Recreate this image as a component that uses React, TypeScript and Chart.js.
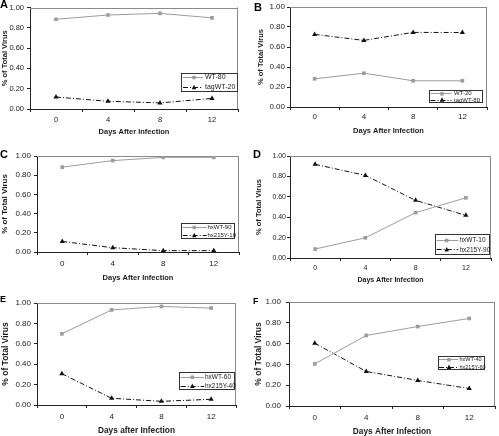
import React, { useEffect, useRef } from "react";
import { Chart, registerables } from "chart.js";

Chart.register(...registerables);

const FONT = '"Liberation Sans", Arial, Helvetica, sans-serif';
const GRAY = "#9c9c9c";
const BLACK = "#111111";
const AXIS = "#222222";
const FRAME = "#8a8a8a";
const TEXT = "#1a1a1a";

// ---- data ----
const days = ["0", "4", "8", "12"];

const aLetter = "A";
const aSquareLabel = "WT-80";
const aSquare = [0.884, 0.926, 0.942, 0.898];
const aTriLabel = "tagWT-20";
const aTri = [0.118, 0.076, 0.06, 0.104];

const bLetter = "B";
const bSquareLabel = "WT-20";
const bSquare = [0.282, 0.338, 0.262, 0.262];
const bTriLabel = "tagWT-80";
const bTri = [0.726, 0.666, 0.746, 0.745];

const cLetter = "C";
const cSquareLabel = "hxWT-90";
const cSquare = [0.884, 0.952, 0.986, 0.986];
const cTriLabel = "hx215Y-10";
const cTri = [0.11, 0.045, 0.014, 0.014];

const dLetter = "D";
const dSquareLabel = "hxWT-10";
const dSquare = [0.088, 0.198, 0.445, 0.59];
const dTriLabel = "hx215Y-90";
const dTri = [0.918, 0.81, 0.565, 0.418];

const eLetter = "E";
const eSquareLabel = "hxWT-60";
const eSquare = [0.698, 0.932, 0.966, 0.95];
const eTriLabel = "hx215Y-40";
const eTri = [0.307, 0.066, 0.036, 0.056];

const fLetter = "F";
const fSquareLabel = "hxWT-40";
const fSquare = [0.405, 0.678, 0.764, 0.842];
const fTriLabel = "hx215Y-60";
const fTri = [0.604, 0.332, 0.246, 0.168];

const yTickStep = 0.2;
const xTitleDefault = "Days After Infection";
const xTitleLower = "Days after Infection";
const yTitle = "% of Total Virus";

type Cfg = {
  letter: string; sqLabel: string; sq: number[]; triLabel: string; tri: number[]; xTitle: string;
  x: number; y: number; w: number; h: number;
  plotL: number; plotR: number; plotT: number; plotB: number;
  tickFont: number; xTitleFont: number; yTitleFont: number;
  yTitleX: number; yTickRight: number; xTickY: number; xTitleY: number;
  letterX: number; letterY: number; letterFont: number;
  lx: number; ly: number; lw: number; lh: number; row1: number; row2: number;
  lineX1: number; lineX2: number; markX: number; textX: number; legFont: number;
};

const panels: Cfg[] = [
  {
    letter: aLetter, sqLabel: aSquareLabel, sq: aSquare, triLabel: aTriLabel, tri: aTri, xTitle: xTitleDefault,
    x: 0, y: 0, w: 250, h: 145, plotL: 30, plotR: 238, plotT: 6, plotB: 109,
    tickFont: 7.5, xTitleFont: 7.5, yTitleFont: 7.5, yTitleX: 4, yTickRight: 24, xTickY: 119.5, xTitleY: 132,
    letterX: 0, letterY: 8, letterFont: 11,
    lx: 181, ly: 73, lw: 57, lh: 19, row1: 77, row2: 87, lineX1: 183, lineX2: 203, markX: 194, textX: 205, legFont: 7,
  },
  {
    letter: bLetter, sqLabel: bSquareLabel, sq: bSquare, triLabel: bTriLabel, tri: bTri, xTitle: xTitleDefault,
    x: 250, y: 0, w: 249, h: 145, plotL: 40, plotR: 237, plotT: 7, plotB: 107,
    tickFont: 8, xTitleFont: 7.5, yTitleFont: 7.5, yTitleX: 11, yTickRight: 35, xTickY: 117, xTitleY: 131,
    letterX: 4, letterY: 11, letterFont: 11,
    lx: 179, ly: 90, lw: 54, lh: 13, row1: 93.3, row2: 99.5, lineX1: 180.5, lineX2: 201.5, markX: 192, textX: 204, legFont: 6,
  },
  {
    letter: cLetter, sqLabel: cSquareLabel, sq: cSquare, triLabel: cTriLabel, tri: cTri, xTitle: xTitleDefault,
    x: 0, y: 145, w: 250, h: 145, plotL: 37, plotR: 239, plotT: 11, plotB: 107,
    tickFont: 8, xTitleFont: 7.5, yTitleFont: 8, yTitleX: 5, yTickRight: 31, xTickY: 119, xTitleY: 133,
    letterX: 0, letterY: 13, letterFont: 11,
    lx: 181, ly: 78, lw: 54, lh: 16, row1: 82, row2: 90, lineX1: 182.7, lineX2: 206.7, markX: 194.3, textX: 207.5, legFont: 6,
  },
  {
    letter: dLetter, sqLabel: dSquareLabel, sq: dSquare, triLabel: dTriLabel, tri: dTri, xTitle: xTitleDefault,
    x: 250, y: 145, w: 249, h: 145, plotL: 40, plotR: 241, plotT: 11, plotB: 113,
    tickFont: 7, xTitleFont: 7, yTitleFont: 7.5, yTitleX: 9, yTickRight: 36, xTickY: 122.7, xTitleY: 135,
    letterX: 3, letterY: 13, letterFont: 11,
    lx: 185, ly: 89, lw: 55, lh: 21, row1: 95, row2: 104.3, lineX1: 186.7, lineX2: 208.3, markX: 196.7, textX: 209.5, legFont: 6.5,
  },
  {
    letter: eLetter, sqLabel: eSquareLabel, sq: eSquare, triLabel: eTriLabel, tri: eTri, xTitle: xTitleLower,
    x: 0, y: 290, w: 250, h: 146, plotL: 37, plotR: 236, plotT: 13, plotB: 115,
    tickFont: 8, xTitleFont: 8.3, yTitleFont: 8.5, yTitleX: 5.5, yTickRight: 31, xTickY: 127, xTitleY: 140.7,
    letterX: 0, letterY: 12, letterFont: 9,
    lx: 179, ly: 82, lw: 56, lh: 18, row1: 86.7, row2: 95.7, lineX1: 180.7, lineX2: 204, markX: 192.3, textX: 205, legFont: 6.5,
  },
  {
    letter: fLetter, sqLabel: fSquareLabel, sq: fSquare, triLabel: fTriLabel, tri: fTri, xTitle: xTitleDefault,
    x: 250, y: 290, w: 249, h: 146, plotL: 39, plotR: 245, plotT: 12, plotB: 116,
    tickFont: 8, xTitleFont: 8.3, yTitleFont: 8.5, yTitleX: 8.3, yTickRight: 31, xTickY: 127.7, xTitleY: 141.3,
    letterX: 3, letterY: 13.5, letterFont: 9,
    lx: 187.7, ly: 65.7, lw: 46.6, lh: 14.3, row1: 69.3, row2: 76.7, lineX1: 189, lineX2: 208.3, markX: 199, textX: 209.5, legFont: 5.5,
  },
];

const TL = 3;

function drawSquare(ctx: CanvasRenderingContext2D, x: number, y: number, s: number) {
  ctx.fillStyle = GRAY;
  ctx.fillRect(x - s / 2, y - s / 2, s, s);
}
function drawTri(ctx: CanvasRenderingContext2D, x: number, y: number, s: number) {
  ctx.fillStyle = BLACK;
  ctx.beginPath();
  ctx.moveTo(x, y - s * 0.6);
  ctx.lineTo(x + s / 2, y + s * 0.4);
  ctx.lineTo(x - s / 2, y + s * 0.4);
  ctx.closePath();
  ctx.fill();
}

function Panel({ c }: { c: Cfg }) {
  const ref = useRef<HTMLCanvasElement>(null);
  useEffect(() => {
    const lhTick = c.tickFont * 1.2;
    const lhXT = c.xTitleFont * 1.2;
    const lhYT = c.yTitleFont * 1.2;
    const extras = {
      id: "extras" + c.letter,
      beforeDatasetsDraw(chart: any) {
        const { ctx, chartArea: a } = chart;
        ctx.save();
        ctx.strokeStyle = FRAME;
        ctx.lineWidth = 1;
        ctx.beginPath();
        ctx.moveTo(a.left, Math.round(a.top) + 0.5);
        ctx.lineTo(a.right, Math.round(a.top) + 0.5);
        ctx.moveTo(Math.round(a.right) - 0.5, a.top);
        ctx.lineTo(Math.round(a.right) - 0.5, a.bottom);
        ctx.stroke();
        ctx.restore();
      },
      afterDraw(chart: any) {
        const { ctx } = chart;
        ctx.save();
        // legend
        ctx.fillStyle = "#ffffff";
        ctx.fillRect(c.lx, c.ly, c.lw, c.lh);
        ctx.strokeStyle = "#333333";
        ctx.lineWidth = 1;
        ctx.strokeRect(Math.round(c.lx) + 0.5, Math.round(c.ly) + 0.5, Math.round(c.lw) - 1, Math.round(c.lh) - 1);
        const ds = chart.data.datasets;
        const rows = [c.row1, c.row2];
        ds.forEach((d: any, i: number) => {
          const ry = rows[i];
          ctx.beginPath();
          ctx.strokeStyle = d.borderColor;
          ctx.setLineDash(d.borderDash || []);
          ctx.moveTo(c.lineX1, Math.round(ry) + 0.5);
          ctx.lineTo(c.lineX2, Math.round(ry) + 0.5);
          ctx.stroke();
          ctx.setLineDash([]);
          if (d.pointStyle === "rect") drawSquare(ctx, c.markX, ry + 0.5, 3.5);
          else drawTri(ctx, c.markX, ry + 0.5, 4.5);
          ctx.fillStyle = TEXT;
          ctx.font = `${c.legFont}px ${FONT}`;
          ctx.textBaseline = "middle";
          ctx.textAlign = "left";
          ctx.fillText(d.label, c.textX, ry + 0.5);
        });
        // panel letter
        ctx.fillStyle = "#000";
        ctx.font = `bold ${c.letterFont}px ${FONT}`;
        ctx.textBaseline = "alphabetic";
        ctx.fillText(c.letter, c.letterX, c.letterY);
        ctx.restore();
      },
    };
    const chart = new Chart(ref.current as HTMLCanvasElement, {
      type: "line",
      data: {
        labels: days,
        datasets: [
          {
            label: c.sqLabel, data: c.sq, borderColor: GRAY, backgroundColor: GRAY,
            borderWidth: 1, pointStyle: "rect", pointRadius: 2.6, pointBorderWidth: 0,
            pointBackgroundColor: GRAY, tension: 0,
          },
          {
            label: c.triLabel, data: c.tri, borderColor: BLACK, backgroundColor: BLACK,
            borderWidth: 1, borderDash: [5, 2, 1, 2], pointStyle: "triangle", pointRadius: 3,
            pointBorderWidth: 0, pointBackgroundColor: BLACK, tension: 0,
          },
        ],
      } as any,
      options: {
        responsive: false,
        animation: false,
        devicePixelRatio: 1,
        layout: { padding: { left: 0, right: c.w - c.plotR, top: c.plotT, bottom: 0 } },
        plugins: { legend: { display: false }, tooltip: { enabled: false } },
        scales: {
          x: {
            type: "category",
            offset: true,
            grid: { offset: true, drawOnChartArea: false, drawTicks: true, tickLength: TL, color: AXIS },
            border: { display: true, color: AXIS, width: 1 },
            ticks: {
              color: TEXT, font: { family: FONT, size: c.tickFont },
              padding: c.xTickY - c.plotB - TL - lhTick / 2, maxRotation: 0, autoSkip: false,
            },
            title: {
              display: true, text: c.xTitle, color: TEXT,
              font: { family: FONT, size: c.xTitleFont, weight: "bold" },
              padding: { top: 0, bottom: c.h - c.xTitleY - lhXT / 2 },
            },
            afterFit: (s: any) => { s.height = c.h - c.plotB; },
          },
          y: {
            min: 0, max: 1,
            grid: { drawOnChartArea: false, drawTicks: true, tickLength: TL, color: AXIS },
            border: { display: true, color: AXIS, width: 1 },
            ticks: {
              stepSize: yTickStep, color: TEXT, font: { family: FONT, size: c.tickFont },
              padding: c.plotL - TL - c.yTickRight,
              callback: (v: any) => Number(v).toFixed(2),
            },
            title: {
              display: true, text: yTitle, color: TEXT,
              font: { family: FONT, size: c.yTitleFont, weight: "bold" },
              padding: { top: Math.max(0, c.yTitleX - lhYT / 2), bottom: 0 },
            },
            afterFit: (s: any) => { s.width = c.plotL; },
          },
        },
      } as any,
      plugins: [extras],
    });
    return () => chart.destroy();
  }, []);
  return (
    <canvas
      ref={ref}
      width={c.w}
      height={c.h}
      style={{ position: "absolute", left: c.x, top: c.y, width: c.w, height: c.h }}
    />
  );
}

export default function App() {
  return (
    <div style={{ position: "absolute", left: 0, top: 0, width: 499, height: 436, background: "#fff", overflow: "hidden" }}>
      {panels.map((c) => (
        <Panel key={c.letter} c={c} />
      ))}
    </div>
  );
}
